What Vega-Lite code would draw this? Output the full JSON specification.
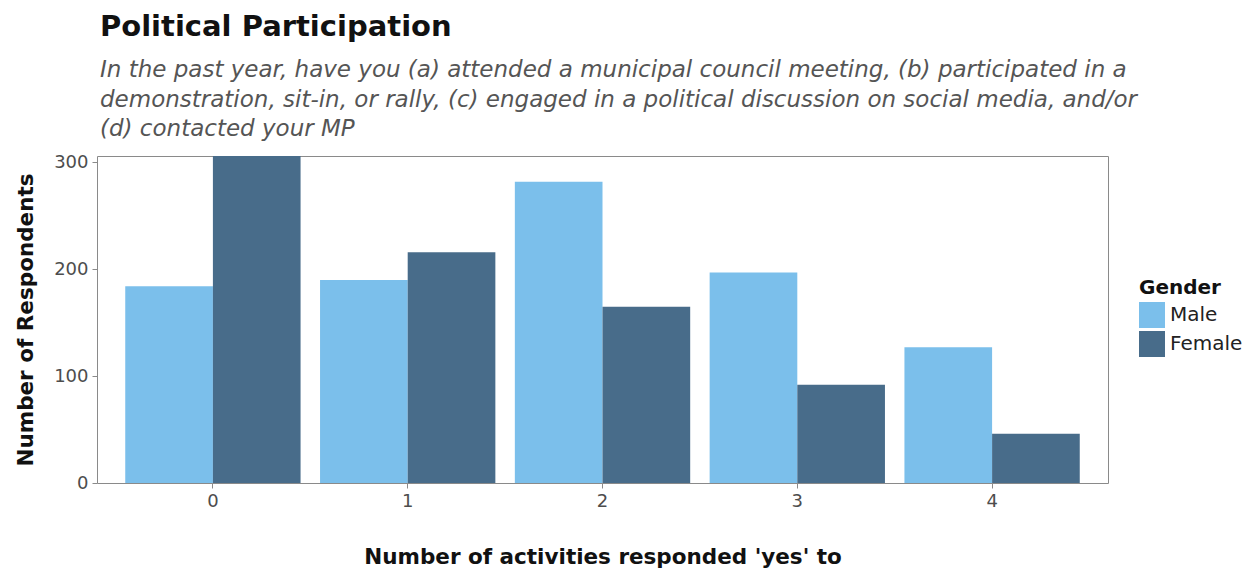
{
  "$schema": "https://vega.github.io/schema/vega-lite/v6.json",
  "autosize": "none",
  "width": 1011,
  "height": 327,
  "padding": {"left": 97, "top": 156, "right": 147, "bottom": 85},
  "background": "white",
  "title": {
    "text": "Political Participation",
    "subtitle": ["In the past year, have you (a) attended a municipal council meeting, (b) participated in a", "demonstration, sit-in, or rally, (c) engaged in a political discussion on social media, and/or", "(d) contacted your MP"],
    "anchor": "start",
    "frame": "group",
    "offset": 12,
    "dx": 3,
    "font": "DejaVu Sans",
    "fontSize": 29,
    "fontWeight": "bold",
    "color": "#111",
    "subtitleFont": "DejaVu Sans",
    "subtitleFontSize": 23,
    "subtitleFontStyle": "italic",
    "subtitleColor": "#555",
    "subtitleLineHeight": 29.5,
    "subtitlePadding": 17
  },
  "data": {
    "values": [
      {"activities": "0", "gender": "Male", "count": 184},
      {"activities": "0", "gender": "Female", "count": 306},
      {"activities": "1", "gender": "Male", "count": 190},
      {"activities": "1", "gender": "Female", "count": 216},
      {"activities": "2", "gender": "Male", "count": 282},
      {"activities": "2", "gender": "Female", "count": 165},
      {"activities": "3", "gender": "Male", "count": 197},
      {"activities": "3", "gender": "Female", "count": 92},
      {"activities": "4", "gender": "Male", "count": 127},
      {"activities": "4", "gender": "Female", "count": 46}
    ]
  },
  "mark": {"type": "bar", "clip": true},
  "encoding": {
    "x": {
      "field": "activities",
      "type": "nominal",
      "title": "Number of activities responded 'yes' to",
      "scale": {"paddingInner": 0.1, "paddingOuter": 0.145},
      "axis": {"labelAngle": 0, "titlePadding": 36}
    },
    "xOffset": {"field": "gender", "type": "nominal", "sort": ["Male", "Female"], "scale": {"paddingInner": 0, "paddingOuter": 0}},
    "y": {
      "field": "count",
      "type": "quantitative",
      "title": "Number of Respondents",
      "scale": {"domain": [0, 306], "nice": false, "zero": true},
      "axis": {"values": [0, 100, 200, 300], "titlePadding": 16}
    },
    "color": {
      "field": "gender",
      "type": "nominal",
      "sort": ["Male", "Female"],
      "title": "Gender",
      "scale": {"domain": ["Male", "Female"], "range": ["#7BBFEB", "#486C8A"]},
      "legend": {"orient": "none", "legendX": 1042, "legendY": 122, "symbolType": "square", "symbolSize": 676, "symbolStrokeWidth": 0, "labelFontSize": 20, "titleFontSize": 20, "labelFont": "DejaVu Sans", "titleFont": "DejaVu Sans", "titleFontWeight": "bold", "titleColor": "#111", "labelColor": "#222", "rowPadding": 3, "labelOffset": 5, "titlePadding": 4}
    }
  },
  "config": {
    "view": {"stroke": "#8a8a8a", "strokeWidth": 1},
    "axis": {
      "grid": false,
      "domain": false,
      "labelFont": "DejaVu Sans",
      "labelFontSize": 18,
      "labelColor": "#4d4d4d",
      "tickColor": "#8a8a8a",
      "tickSize": 5,
      "labelPadding": 4,
      "titleFont": "DejaVu Sans",
      "titleFontSize": 21.5,
      "titleFontWeight": "bold",
      "titleColor": "#111"
    }
  }
}
